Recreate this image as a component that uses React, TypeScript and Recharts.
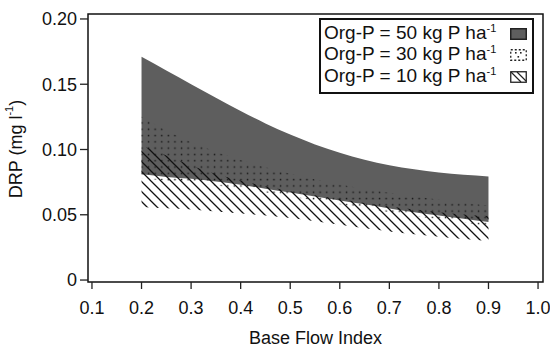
import React from 'react';
import { ComposedChart, Area, XAxis, YAxis, ReferenceArea } from 'recharts';

// Base Flow Index sample points
const bfi = [0.2, 0.25, 0.3, 0.35, 0.4, 0.45, 0.5, 0.55, 0.6, 0.65, 0.7, 0.75, 0.8, 0.85, 0.9];

// Org-P = 50 kg P ha-1 (DRP range, mg l-1)
const org50High = [0.171, 0.1605, 0.15, 0.1396, 0.1295, 0.12, 0.1114, 0.1039, 0.0975, 0.0922, 0.088, 0.0848, 0.0824, 0.0806, 0.0794];
const org50Low = [0.081, 0.079, 0.0775, 0.0755, 0.073, 0.07, 0.067, 0.064, 0.061, 0.058, 0.0548, 0.052, 0.0495, 0.047, 0.0445];

// Org-P = 30 kg P ha-1
const org30High = [0.125, 0.1145, 0.1058, 0.0983, 0.092, 0.0864, 0.0815, 0.0771, 0.0732, 0.0698, 0.0668, 0.0641, 0.0616, 0.0592, 0.057];
const org30Low = [0.078, 0.076, 0.0745, 0.0725, 0.07, 0.067, 0.064, 0.061, 0.058, 0.055, 0.0518, 0.049, 0.0465, 0.044, 0.0415];

// Org-P = 10 kg P ha-1
const org10High = [0.103, 0.0955, 0.0878, 0.0812, 0.0762, 0.0718, 0.068, 0.065, 0.062, 0.059, 0.0563, 0.054, 0.052, 0.0503, 0.049];
const org10Low = [0.056, 0.055, 0.054, 0.0525, 0.051, 0.0495, 0.0475, 0.045, 0.0423, 0.0396, 0.0372, 0.0351, 0.0332, 0.0315, 0.03];

const xTicks = [0.1, 0.2, 0.3, 0.4, 0.5, 0.6, 0.7, 0.8, 0.9, 1.0];
const yTicks = [0, 0.05, 0.1, 0.15, 0.2];
const legendLabels = ['Org-P = 50 kg P ha', 'Org-P = 30 kg P ha', 'Org-P = 10 kg P ha'];

const X_DOMAIN: [number, number] = [0.092, 1.01];
const Y_DOMAIN: [number, number] = [-0.0015, 0.2038];

const FONT = '"Liberation Sans", Arial, Helvetica, sans-serif';

const data = bfi.map((x, i) => ({
  bfi: x,
  org50: [org50Low[i], org50High[i]],
  org30: [org30Low[i], org30High[i]],
  org10: [org10Low[i], org10High[i]],
}));

const YLabel = () => (
  <text
    x={16}
    y={149}
    transform="rotate(-90 16 149)"
    textAnchor="middle"
    dominantBaseline="central"
    fontFamily={FONT}
    fontSize={18}
    fill="#111"
  >
    DRP (mg l
    <tspan fontSize={11} dy={-7}>-1</tspan>
    <tspan dy={7}>)</tspan>
  </text>
);

const XLabel = () => (
  <text x={315.5} y={343.5} textAnchor="middle" fontFamily={FONT} fontSize={18} fill="#111">
    Base Flow Index
  </text>
);

const Swatch = ({ kind }: { kind: number }) => {
  if (kind === 0) {
    return (
      <svg width={17} height={12}>
        <rect x={0.75} y={0.75} width={15.5} height={10.5} fill="#5e5e5e" stroke="#222" strokeWidth={1.5} />
      </svg>
    );
  }
  if (kind === 1) {
    return (
      <svg width={17} height={12}>
        <rect x={0.75} y={0.75} width={15.5} height={10.5} fill="#fff" stroke="#222" strokeWidth={1.3} strokeDasharray="2 2" />
        <rect x={5} y={3} width={1.6} height={1.6} fill="#222" />
        <rect x={10} y={3} width={1.6} height={1.6} fill="#222" />
        <rect x={7.5} y={7} width={1.6} height={1.6} fill="#222" />
      </svg>
    );
  }
  return (
    <svg width={17} height={12}>
      <rect x={0.75} y={0.75} width={15.5} height={10.5} fill="#fff" stroke="#222" strokeWidth={1.3} />
      <path d="M1,1 L11,11 M7,1 L16,10" stroke="#222" strokeWidth={1.2} />
    </svg>
  );
};

export default function App() {
  return (
    <div style={{ position: 'absolute', left: 0, top: 0, width: 550, height: 348, background: '#fff', fontFamily: FONT }}>
      <ComposedChart width={550} height={348} data={data} margin={{ top: 14, right: 7, bottom: 16, left: 28 }}>
        <defs>
          <pattern id="dotsPat" patternUnits="userSpaceOnUse" width={6.6} height={6.3}>
            <rect x={2.6} y={2.5} width={1.5} height={1.5} fill="#1a1a1a" />
          </pattern>
          <pattern id="hatchPat" patternUnits="userSpaceOnUse" width={10} height={10}>
            <path d="M-5,5 L5,15 M0,0 L10,10 M5,-5 L15,5" stroke="#111" strokeWidth={1.3} />
          </pattern>
        </defs>
        <XAxis
          dataKey="bfi"
          type="number"
          domain={X_DOMAIN}
          ticks={xTicks}
          allowDataOverflow
          tickFormatter={(v: number) => v.toFixed(1)}
          axisLine={false}
          tickLine={{ stroke: '#222', strokeWidth: 1.3 }}
          tickSize={7}
          tickMargin={12}
          tick={{ fill: '#111', fontSize: 18, fontFamily: FONT }}
          height={50}
          label={<XLabel />}
        />
        <YAxis
          type="number"
          domain={Y_DOMAIN}
          ticks={yTicks}
          allowDataOverflow
          tickFormatter={(v: number) => (v === 0 ? '0' : v.toFixed(2))}
          axisLine={false}
          tickLine={{ stroke: '#222', strokeWidth: 1.3 }}
          tickSize={8}
          tickMargin={3}
          tick={{ fill: '#111', fontSize: 18, fontFamily: FONT }}
          width={60}
          label={<YLabel />}
        />
        <Area dataKey="org50" type="monotone" fill="#5e5e5e" fillOpacity={1} stroke="none" isAnimationActive={false} />
        <Area dataKey="org30" type="monotone" fill="url(#dotsPat)" fillOpacity={1} stroke="none" isAnimationActive={false} />
        <Area dataKey="org10" type="monotone" fill="url(#hatchPat)" fillOpacity={1} stroke="none" isAnimationActive={false} />
        <ReferenceArea
          x1={X_DOMAIN[0]}
          x2={X_DOMAIN[1]}
          y1={Y_DOMAIN[0]}
          y2={Y_DOMAIN[1]}
          fill="none"
          stroke="#111"
          strokeWidth={1.5}
          ifOverflow="visible"
        />
      </ComposedChart>
      <div
        style={{
          position: 'absolute',
          left: 319,
          top: 18,
          width: 215,
          height: 76,
          boxSizing: 'border-box',
          border: '2px solid #111',
          background: '#fff',
          padding: '3px 5px 0 3px',
          fontSize: 19,
          lineHeight: '21.5px',
          color: '#111',
        }}
      >
        {legendLabels.map((t, i) => (
          <div key={t} style={{ display: 'flex', alignItems: 'center', justifyContent: 'space-between', height: 21.5 }}>
            <span style={{ whiteSpace: 'nowrap' }}>
              {t}
              <span style={{ fontSize: 11, position: 'relative', top: -7 }}>-1</span>
            </span>
            <Swatch kind={i} />
          </div>
        ))}
      </div>
    </div>
  );
}
